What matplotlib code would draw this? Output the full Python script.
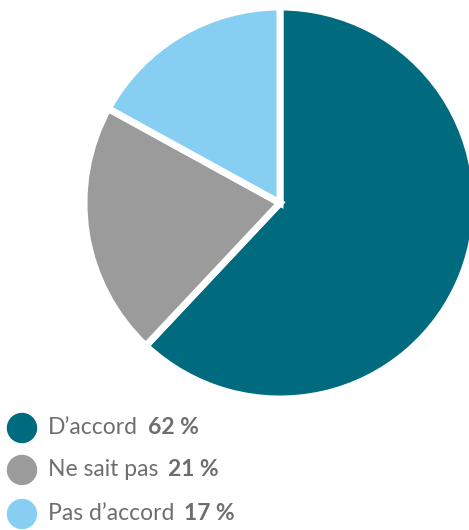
import matplotlib
matplotlib.use("Agg")
import matplotlib.pyplot as plt
from matplotlib.patches import Circle

labels = ["D’accord", "Ne sait pas", "Pas d’accord"]
values = [62, 21, 17]
colors = ["#006B7F", "#9B9B9B", "#87CEF3"]

W, H = 469, 530
fig = plt.figure(figsize=(W / 100, H / 100), dpi=100)

# pie: centre and radius in pixels
cx, cy, r = 280, 203, 196
ax = fig.add_axes([(cx - r) / W, (H - cy - r) / H, 2 * r / W, 2 * r / H])
ax.pie(values, colors=colors, startangle=90, counterclock=False, radius=1,
       wedgeprops=dict(edgecolor="white", linewidth=5))
ax.set_xlim(-1, 1)
ax.set_ylim(-1, 1)
ax.set_aspect("equal")
ax.axis("off")

# legend drawn in pixel coordinates
lax = fig.add_axes([0, 0, 1, 1])
lax.set_xlim(0, W)
lax.set_ylim(H, 0)
lax.axis("off")

text_color = "#6E6E6E"
fs = 16.5
ys = [428, 470, 514]
fig.canvas.draw()
renderer = fig.canvas.get_renderer()
for lab, val, col, y in zip(labels, values, colors, ys):
    lax.add_patch(Circle((22, y), 14.5, color=col))
    t = lax.text(48, y, lab, fontsize=fs, family="Lato", color=text_color,
                 va="center", ha="left")
    bb = t.get_window_extent(renderer=renderer)
    x_end = bb.x1  # display pixels == data x since axes spans figure
    lax.text(x_end + 10, y, f"{val} %", fontsize=fs, family="Lato",
             fontweight="bold", color=text_color, va="center", ha="left")

fig.savefig("out.png", dpi=100)
